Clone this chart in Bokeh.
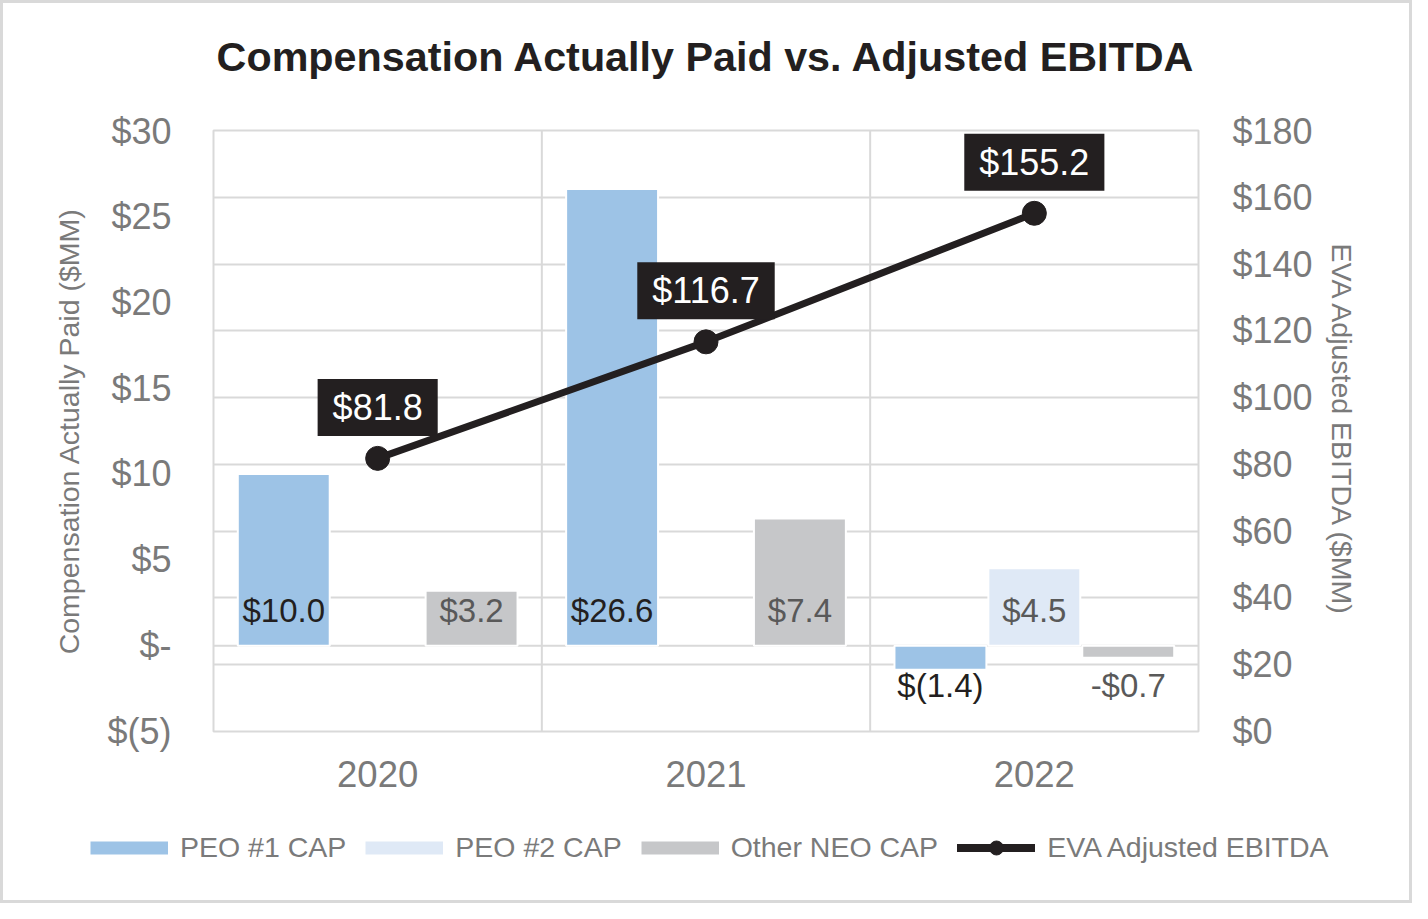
import math
from bokeh.plotting import figure
from bokeh.layouts import column
from bokeh.models import (Range1d, LinearAxis, FixedTicker, Grid, Span, Legend,
                          LegendItem, ColumnDataSource, LabelSet)
from bokeh.transform import dodge
from bokeh.core.properties import value
from bokeh.embed import file_html
from bokeh.resources import INLINE

# ---------------- data ----------------
years = ["2020", "2021", "2022"]
peo1_cap = [10.0, 26.6, -1.4]
peo2_cap = [None, None, 4.5]
other_neo_cap = [3.2, 7.4, -0.7]
eva_adj_ebitda = [81.8, 116.7, 155.2]

left_ticks = [-5, 0, 5, 10, 15, 20, 25, 30]
right_ticks = [0, 20, 40, 60, 80, 100, 120, 140, 160, 180]

series_names = ["PEO #1 CAP", "PEO #2 CAP", "Other NEO CAP"]
line_name = "EVA Adjusted EBITDA"
title_text = "Compensation Actually Paid vs. Adjusted EBITDA"
left_label = "Compensation Actually Paid ($MM)"
right_label = "EVA Adjusted EBITDA ($MM)"

# ---------------- style ----------------
FONT = "Liberation Sans"
GRAY_TXT = "#7a7a7a"
GRID = "#d9d9d9"
DARK = "#231f20"
C_PEO1 = "#9dc3e6"
C_PEO2 = "#dfe9f6"
C_OTHER = "#c6c7c9"
BAR_W = 0.28
OFF = 0.286


def fmt_paren(v):
    return f"$({abs(v):.1f})" if v < 0 else f"${v:.1f}"


def fmt_minus(v):
    return f"-${abs(v):.1f}" if v < 0 else f"${v:.1f}"


def fmt_left_tick(t):
    if t == 0:
        return "$-"
    return f"$({abs(t)})" if t < 0 else f"${t}"


def strip(height):
    """A bare figure used as a text / legend band around the main chart."""
    f = figure(width=W, height=height, x_range=Range1d(0, 1), y_range=Range1d(0, 1),
               output_backend="svg", toolbar_location=None, min_border=0,
               x_axis_location=None, y_axis_location=None)
    f.frame_align = False
    f.grid.visible = False
    f.outline_line_color = None
    f.background_fill_color = "white"
    f.border_fill_color = "white"
    return f


W = 1406
H_TITLE, H_MAIN, H_LEG = 107, 693, 97

# ---------------- title band ----------------
t = strip(H_TITLE)
t.text(x=[0.5], y=[0.5], text=[title_text], text_align="center", text_baseline="middle",
       text_font=value(FONT), text_font_size="41.3px", text_font_style="bold", text_color=DARK)

# ---------------- main chart ----------------
p = figure(width=W, height=H_MAIN, x_range=years, y_range=Range1d(left_ticks[0], left_ticks[-1]),
           output_backend="svg", toolbar_location=None,
           min_border_left=210, min_border_right=211, min_border_top=20, min_border_bottom=72)
p.frame_align = False
p.extra_y_ranges = {"right": Range1d(right_ticks[0], right_ticks[-1])}

p.background_fill_color = "white"
p.border_fill_color = "white"
p.outline_line_color = GRID
p.outline_line_width = 2
p.grid.visible = False

# horizontal gridlines follow right axis, plus zero line of left axis
p.add_layout(Grid(dimension=1, ticker=FixedTicker(ticks=right_ticks[1:-1]), y_range_name="right",
                  grid_line_color=GRID, grid_line_width=2))
p.add_layout(Span(location=0, dimension="width", line_color=GRID, line_width=2, level="underlay"))
for k in range(1, len(years)):
    p.add_layout(Span(location=k, dimension="height", line_color=GRID, line_width=2, level="underlay"))

# left axis
ya = p.yaxis[0]
ya.ticker = FixedTicker(ticks=left_ticks)
ya.major_label_overrides = {t_: fmt_left_tick(t_) for t_ in left_ticks}
ya.axis_label = left_label

# right axis
ra = LinearAxis(y_range_name="right", ticker=FixedTicker(ticks=right_ticks),
                major_label_overrides={t_: f"${t_}" for t_ in right_ticks},
                axis_label=right_label)
p.add_layout(ra, "right")

xa = p.xaxis[0]
for ax in (ya, ra, xa):
    ax.axis_line_color = None
    ax.major_tick_line_color = None
    ax.minor_tick_line_color = None
    ax.major_tick_out = 0
    ax.major_tick_in = 0
    ax.minor_tick_out = 0
    ax.major_label_text_font = FONT
    ax.major_label_text_color = GRAY_TXT
    ax.axis_label_text_font = FONT
    ax.axis_label_text_font_size = "28.5px"
    ax.axis_label_text_font_style = "normal"
    ax.axis_label_text_color = GRAY_TXT
ya.major_label_text_font_size = "36px"
ra.major_label_text_font_size = "36px"
xa.major_label_text_font_size = "36.5px"
ya.major_label_standoff = 42
ya.axis_label_standoff = 19
ra.major_label_standoff = 34
ra.axis_label_standoff = 10
xa.major_label_standoff = 29

# ---------------- legend band ----------------
q = strip(H_LEG)
legend_items = []

# bars
bar_specs = [
    (series_names[0], peo1_cap, -OFF, C_PEO1, fmt_paren, DARK),
    (series_names[1], peo2_cap, 0.0, C_PEO2, fmt_paren, "#595959"),
    (series_names[2], other_neo_cap, OFF, C_OTHER, fmt_minus, "#595959"),
]
for name, vals, off, color, fmt, lab_color in bar_specs:
    yrs = [y for y, v in zip(years, vals) if v is not None]
    vv = [v for v in vals if v is not None]
    src = ColumnDataSource(dict(
        year=yrs, val=vv,
        label=[fmt(v) for v in vv],
        lab_off=[35 if v >= 0 else -40 for v in vv],
    ))
    p.vbar(x=dodge("year", off, range=p.x_range), top="val", bottom=0, width=BAR_W,
           source=src, fill_color=color, line_color="white", line_width=2)
    p.add_layout(LabelSet(x=dodge("year", off, range=p.x_range), y=0, y_offset="lab_off",
                          text="label", source=src, text_align="center", text_baseline="middle",
                          text_font=value(FONT), text_font_size="33px", text_color=lab_color))
    # legend key: flat thick bar like the reference's keys
    sw = q.line(x=[0.5], y=[math.nan], line_color=color, line_width=13)
    legend_items.append(LegendItem(label=name, renderers=[sw]))

# line
lsrc = ColumnDataSource(dict(year=years, val=eva_adj_ebitda,
                             label=[f"${v:.1f}" for v in eva_adj_ebitda]))
p.line(x="year", y="val", source=lsrc, y_range_name="right", line_color=DARK,
       line_width=7, line_cap="round")
p.scatter(x="year", y="val", source=lsrc, y_range_name="right", size=24,
          fill_color=DARK, line_color=DARK)
p.text(x="year", y="val", text="label", source=lsrc, y_range_name="right", y_offset=-51,
       text_align="center", text_baseline="middle", text_font=value(FONT),
       text_font_size="36px", text_color="white",
       background_fill_color=DARK, padding=dict(left=15, right=15, top=8, bottom=8))
kl = q.line(x=[0.5], y=[math.nan], line_color=DARK, line_width=8, line_cap="round")
ks = q.scatter(x=[0.5], y=[math.nan], fill_color=DARK, line_color=DARK)
legend_items.append(LegendItem(label=line_name, renderers=[kl, ks]))

legend = Legend(items=legend_items, orientation="horizontal", location=(87, 35),
                glyph_width=78, glyph_height=35, label_standoff=12, spacing=19,
                label_text_font=FONT, label_text_font_size="28.5px", label_text_color=GRAY_TXT,
                border_line_color=None, background_fill_alpha=0, margin=0, padding=5)
q.add_layout(legend)

layout = column(t, p, q, spacing=0)
layout.styles = {"border": "3px solid #d9d9d9"}

open("out.html", "w").write(file_html(layout, INLINE))
